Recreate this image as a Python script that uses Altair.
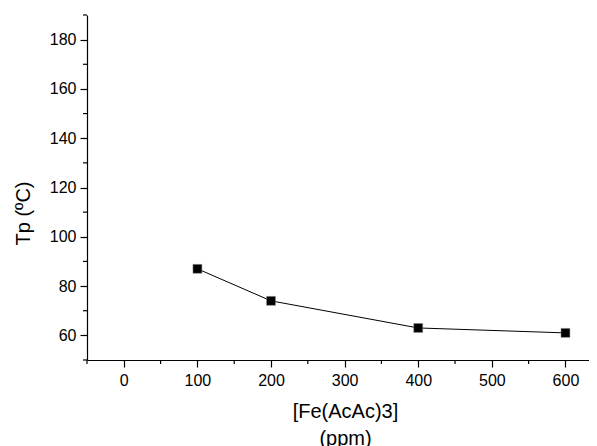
import altair as alt
import pandas as pd

conc = [100, 200, 400, 600]
tp = [87, 74, 63, 61]

x_major = [0, 100, 200, 300, 400, 500, 600]
x_minor = [-50, 50, 150, 250, 350, 450, 550]
y_major = [60, 80, 100, 120, 140, 160, 180]
y_minor = [50, 70, 90, 110, 130, 150, 170, 190]

W, H = 502, 345
MAJOR, MINOR = 7, 4

df = pd.DataFrame({"conc": conc, "tp": tp})
dfx = pd.DataFrame({"conc": x_minor})
dfy = pd.DataFrame({"tp": y_minor})

FONT = "Liberation Sans"

xscale = alt.Scale(domain=[-50, 632], nice=False, zero=False)
yscale = alt.Scale(domain=[50, 190], nice=False, zero=False)

x_enc = alt.X(
    "conc:Q",
    scale=xscale,
    axis=alt.Axis(
        title=["[Fe(AcAc)3]", "(ppm)"],
        values=x_major,
        tickSize=MAJOR,
        grid=False,
        labelPadding=5,
        titlePadding=13,
        titleLineHeight=27,
        titleX=258,
    ),
)
y_enc = alt.Y(
    "tp:Q",
    scale=yscale,
    axis=alt.Axis(
        title="Tp (ºC)",
        values=y_major,
        tickSize=MAJOR,
        grid=False,
        labelPadding=4,
        titleX=-64,
        titleY=198,
        titleAlign="center",
        titleBaseline="middle",
        titleAngle=270,
    ),
)

line = alt.Chart(df).mark_line(color="black", strokeWidth=1).encode(x=x_enc, y=y_enc)
pts = alt.Chart(df).mark_point(
    shape="square", filled=True, size=80, color="black", stroke="#888888", strokeWidth=0.5, opacity=1
).encode(x="conc:Q", y="tp:Q")

xminor = alt.Chart(dfx).mark_rule(color="black", strokeWidth=1.2).encode(
    x=alt.X("conc:Q", scale=xscale),
    y=alt.value(H),
    y2=alt.value(H + MINOR),
)
yminor = alt.Chart(dfy).mark_rule(color="black", strokeWidth=1.2).encode(
    y=alt.Y("tp:Q", scale=yscale),
    x=alt.value(0),
    x2=alt.value(-MINOR),
)

chart = (
    alt.layer(line, pts, xminor, yminor)
    .properties(
        width=W,
        height=H,
        autosize=alt.AutoSizeParams(type="none"),
        padding={"left": 79, "top": 7, "right": 0, "bottom": 94},
    )
    .configure_view(stroke=None)
    .configure_axis(
        domainColor="black",
        domainWidth=1.2,
        tickColor="black",
        tickWidth=1.2,
        labelFont=FONT,
        labelFontSize=16,
        labelColor="black",
        titleFont=FONT,
        titleFontSize=20,
        titleFontWeight="normal",
        titleColor="black",
    )
)

chart.save("out.html", embed_options={"renderer": "svg", "actions": False})
